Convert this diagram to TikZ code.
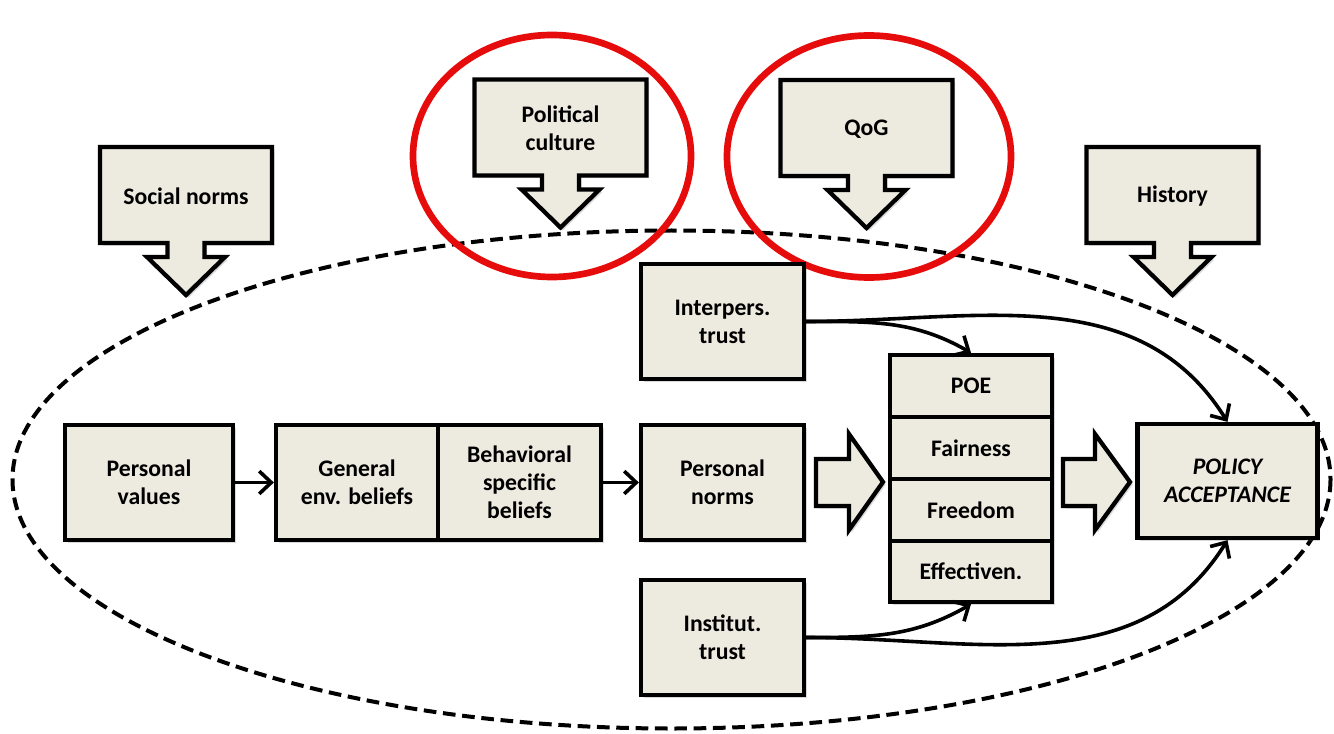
\documentclass[tikz,border=0pt]{standalone}
\usepackage{fontspec}
\setmainfont{Carlito}
\usetikzlibrary{arrows.meta,shadows}
\definecolor{boxfill}{RGB}{237,234,224}
\definecolor{circred}{RGB}{230,12,12}
\newcommand\mycallout[4]{%
  \draw[callbox] (#1-86,#2) -- ++(172,0) -- ++(0,96) -- ++(-67.5,0) -- ++(0,14) -- ++(20.5,0) -- ++(-39,38) -- ++(-39,-38) -- ++(20.5,0) -- ++(0,-14) -- ++(-67.5,0) -- cycle;
  \node[lbl] (#3) at (#1,#2+49) {#4};
}
\begin{document}
\begin{tikzpicture}[x=0.75pt,y=-0.75pt,
  shadowed/.style={drop shadow={shadow xshift=2pt,shadow yshift=-2pt,opacity=0.25,fill=black!60}},
  box/.style={draw=black, line width=3.2pt, fill=boxfill, align=center, inner sep=0pt,
    font=\bfseries\fontsize{17.8}{21}\selectfont, shadowed},
  callbox/.style={draw=black, line width=3.2pt, fill=boxfill, line join=miter, shadowed},
  lbl/.style={align=center, font=\bfseries\fontsize{17.8}{21}\selectfont, inner sep=0pt},
  conn/.style={line width=2.7pt, -{Straight Barb[length=9pt,width=17pt]}},
]
\useasboundingbox (0,0) rectangle (1334,734);

% dashed ellipse
\draw[line width=3pt, dash pattern=on 9.5pt off 5pt] (671.5,479.5) ellipse [x radius=659, y radius=249];

% callouts
\mycallout{186}{147}{sn}{Social norms}
\mycallout{560.5}{79.5}{pc}{Political\\culture}
\mycallout{866.5}{80}{qog}{QoG}
\mycallout{1172.5}{147}{hist}{History}

% red circles
\draw[circred, line width=5pt] (552,156) ellipse [x radius=139, y radius=121];
\draw[circred, line width=5pt] (869,156.5) ellipse [x radius=142, y radius=121];

% boxes
\node[box, minimum width=168*0.75pt, minimum height=115*0.75pt] (pv) at (149,482.5) {Personal\\values};
\node[box, minimum width=162*0.75pt, minimum height=115*0.75pt] (geb) at (357,482.5) {General\\env. beliefs};
\node[box, minimum width=163*0.75pt, minimum height=115*0.75pt] (bsb) at (519.5,482.5) {Behavioral\\specific\\beliefs};
\node[box, minimum width=163*0.75pt, minimum height=115*0.75pt] (pn) at (722.5,482.5) {Personal\\norms};
\node[box, minimum width=163*0.75pt, minimum height=115*0.75pt] (it) at (722.5,321.5) {Interpers.\\trust};
\node[box, minimum width=163*0.75pt, minimum height=115*0.75pt] (ist) at (722.5,637.5) {Institut.\\trust};
\node[box, minimum width=162*0.75pt, minimum height=62*0.75pt] (poe) at (971,386) {POE};
\node[box, minimum width=162*0.75pt, minimum height=62*0.75pt] (fair) at (971,448) {Fairness};
\node[box, minimum width=162*0.75pt, minimum height=62*0.75pt] (free) at (971,510) {Freedom};
\node[box, minimum width=162*0.75pt, minimum height=61*0.75pt] (eff) at (971,571.5) {Effectiven.};
\node[box, minimum width=180*0.75pt, minimum height=114*0.75pt, font=\bfseries\itshape\fontsize{17.8}{21}\selectfont] (pa) at (1227.5,481) {POLICY\\ACCEPTANCE};

% block arrows
\draw[callbox] (816,459) -- (849,459) -- (849,434) -- (883,482) -- (849,530) -- (849,506) -- (816,506) -- cycle;
\draw[callbox] (1063,459) -- (1095,459) -- (1095,434) -- (1130,482) -- (1095,530) -- (1095,506) -- (1063,506) -- cycle;

% connectors
\draw[conn] (pv) -- (geb);
\draw[conn] (bsb) -- (pn);
\draw[conn] (it.east) to[out=0,in=150] (poe.north);
\draw[conn] (it.east) to[out=0,in=122] (pa.north);
\draw[conn] (ist.east) to[out=0,in=-150] (eff.south);
\draw[conn] (ist.east) to[out=0,in=-122] (pa.south);
\end{tikzpicture}
\end{document}
